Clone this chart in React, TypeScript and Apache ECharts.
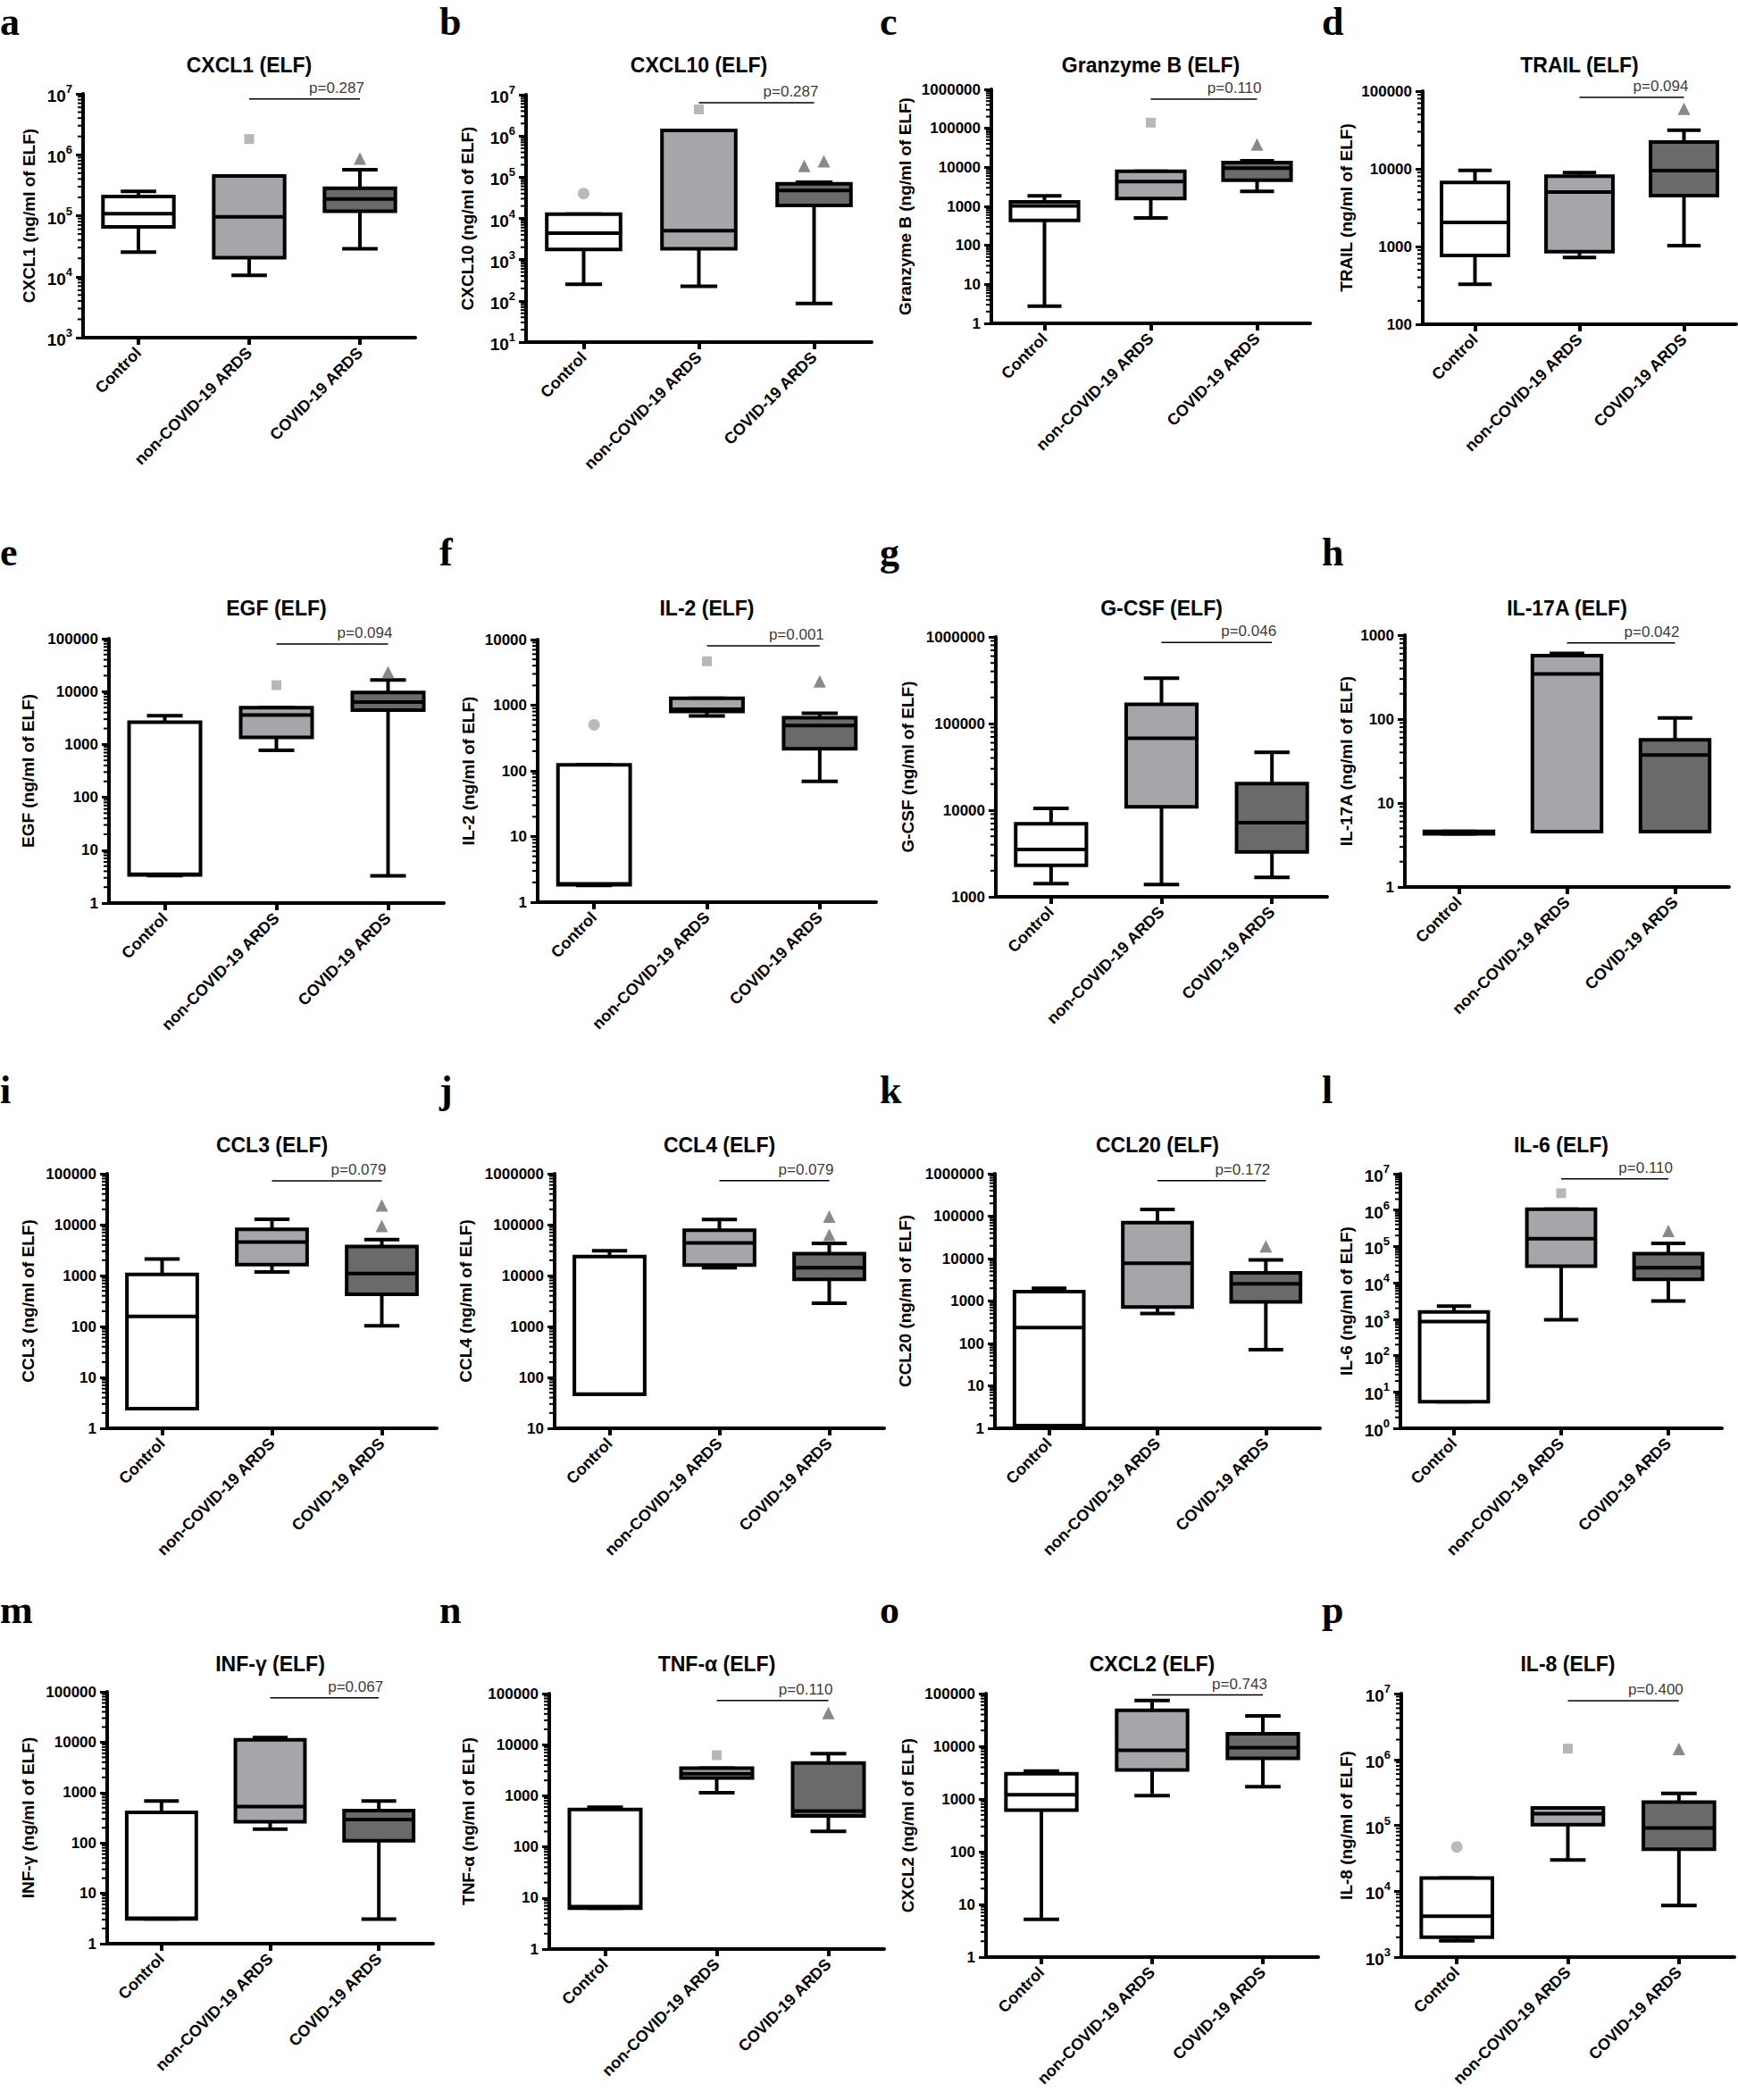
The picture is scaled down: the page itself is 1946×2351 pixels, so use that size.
import React, { useEffect, useRef } from 'react';
import * as echarts from 'echarts';

// ---------- DATA ----------
const CATEGORIES = ['Control', 'non-COVID-19 ARDS', 'COVID-19 ARDS'];

// box statistics per group: [min, Q1, median, Q3, max]
const CXCL1_BOX = [[25200, 65600, 108000, 207000, 250000], [10500, 20400, 96000, 449000, 449000], [28800, 118000, 189000, 283000, 569000]];
const CXCL1_OUT = [[1, 1810000], [2, 870000]];
const CXCL10_BOX = [[254, 1770, 4400, 12600, 12600], [227, 1830, 5050, 1360000, 1360000], [86, 20700, 47500, 69500, 75700]];
const CXCL10_OUT = [[0, 40000], [1, 4400000], [2, 188000], [2, 242000]];
const GZMB_BOX = [[2.77, 437, 1020, 1300, 1850], [504, 1580, 4300, 7960, 7960], [2410, 4700, 9500, 13300, 14700]];
const GZMB_OUT = [[1, 140000], [2, 38700]];
const TRAIL_BOX = [[326, 767, 2040, 6670, 9570], [722, 861, 5030, 8030, 8930], [1030, 4520, 9490, 22100, 31500]];
const TRAIL_OUT = [[2, 59400]];
const EGF_BOX = [[3.3, 3.4, 3.5, 2630, 3500], [771, 1360, 3600, 4950, 4950], [3.26, 4440, 6320, 9580, 16600]];
const EGF_OUT = [[1, 13200], [2, 23300]];
const IL2_BOX = [[1.8, 1.84, 1.9, 124, 124], [687, 806, 870, 1270, 1270], [69, 217, 491, 645, 757]];
const IL2_OUT = [[0, 503], [1, 4670], [2, 2310]];
const GCSF_BOX = [[1420, 2310, 3510, 6980, 10500], [1390, 10900, 67700, 167000, 334000], [1680, 3290, 7170, 20300, 46500]];
const GCSF_OUT: number[][] = [];
const IL17A_BOX = [[4.3, 4.3, 4.4, 4.6, 4.6], [4.57, 4.57, 345, 571, 604], [4.57, 4.57, 37.3, 56.5, 103]];
const IL17A_OUT: number[][] = [];
const CCL3_BOX = [[2.43, 2.43, 158, 1050, 2110], [1170, 1640, 4560, 8100, 12800], [103, 430, 1090, 3730, 5090]];
const CCL3_OUT = [[2, 23800], [2, 9440]];
const CCL4_BOX = [[46.6, 46.6, 47, 23600, 30700], [14200, 16100, 43900, 77800, 126000], [2850, 8410, 14200, 26800, 42600]];
const CCL4_OUT = [[2, 144000], [2, 62900]];
const CCL20_BOX = [[1.15, 1.15, 236, 1660, 2000], [505, 719, 7730, 70200, 143000], [71, 948, 2540, 4600, 9300]];
const CCL20_OUT = [[2, 19500]];
const IL6_BOX = [[5.36, 5.36, 865, 1580, 2290], [964, 28800, 163000, 1050000, 1050000], [3180, 12400, 25900, 63000, 121000]];
const IL6_OUT = [[1, 2900000], [2, 268000]];
const INFG_BOX = [[3.1, 3.1, 3.2, 405, 681], [187, 263, 528, 11100, 12300], [3.07, 111, 292, 437, 681]];
const INFG_OUT: number[][] = [];
const TNFA_BOX = [[6.3, 6.3, 6.8, 538, 595], [1150, 2230, 2690, 3460, 3460], [201, 401, 500, 4380, 6680]];
const TNFA_OUT = [[1, 6220], [2, 41800]];
const CXCL2_BOX = [[5.2, 613, 1200, 3010, 3380], [1160, 3570, 8390, 48200, 73800], [1710, 5880, 9390, 17300, 37800]];
const CXCL2_OUT: number[][] = [];
const IL8_BOX = [[1770, 2010, 4160, 15900, 15900], [29800, 102000, 150000, 184000, 184000], [6080, 43500, 90800, 226000, 306000]];
const IL8_OUT = [[0, 47000], [1, 1460000], [2, 1440000]];

// p-values (non-COVID vs COVID) and the level of their bracket
const P_TEXTS = ['p=0.287', 'p=0.287', 'p=0.110', 'p=0.094', 'p=0.094', 'p=0.001', 'p=0.046', 'p=0.042', 'p=0.079', 'p=0.079', 'p=0.172', 'p=0.110', 'p=0.067', 'p=0.110', 'p=0.743', 'p=0.400'];
const P_LEVELS = [8.26e6, 6.4e6, 5.6e5, 8.3e4, 7.95e4, 8.05e3, 8.6e5, 809, 7.24e4, 7.3e5, 6.9e5, 7.2e6, 7.6e4, 7.3e4, 9.4e4, 7.8e6];

// y-axis decade ranges [min exponent, max exponent]
const Y_RANGES = [[3, 7], [1, 7], [0, 6], [2, 5], [0, 5], [0, 4], [3, 6], [0, 3], [0, 5], [1, 6], [0, 6], [0, 7], [0, 5], [0, 5], [0, 5], [3, 7]];
const SUPERSCRIPT_TICKS = [true, true, false, false, false, false, false, false, false, false, false, true, false, false, false, true];

const LETTERS = ['a', 'b', 'c', 'd', 'e', 'f', 'g', 'h', 'i', 'j', 'k', 'l', 'm', 'n', 'o', 'p'];
const TITLES = ['CXCL1 (ELF)', 'CXCL10 (ELF)', 'Granzyme B (ELF)', 'TRAIL (ELF)', 'EGF (ELF)', 'IL-2 (ELF)', 'G-CSF (ELF)', 'IL-17A (ELF)', 'CCL3 (ELF)', 'CCL4 (ELF)', 'CCL20 (ELF)', 'IL-6 (ELF)', 'INF-γ (ELF)', 'TNF-α (ELF)', 'CXCL2 (ELF)', 'IL-8 (ELF)'];
const Y_NAMES = ['CXCL1 (ng/ml of ELF)', 'CXCL10 (ng/ml of ELF)', 'Granzyme B (ng/ml of ELF)', 'TRAIL (ng/ml of ELF)', 'EGF (ng/ml of ELF)', 'IL-2 (ng/ml of ELF)', 'G-CSF (ng/ml of ELF)', 'IL-17A (ng/ml of ELF)', 'CCL3 (ng/ml of ELF)', 'CCL4 (ng/ml of ELF)', 'CCL20 (ng/ml of ELF)', 'IL-6 (ng/ml of ELF)', 'INF-γ (ng/ml of ELF)', 'TNF-α (ng/ml of ELF)', 'CXCL2 (ng/ml of ELF)', 'IL-8 (ng/ml of ELF)'];
const BOXES = [CXCL1_BOX, CXCL10_BOX, GZMB_BOX, TRAIL_BOX, EGF_BOX, IL2_BOX, GCSF_BOX, IL17A_BOX, CCL3_BOX, CCL4_BOX, CCL20_BOX, IL6_BOX, INFG_BOX, TNFA_BOX, CXCL2_BOX, IL8_BOX];
const OUTLIERS = [CXCL1_OUT, CXCL10_OUT, GZMB_OUT, TRAIL_OUT, EGF_OUT, IL2_OUT, GCSF_OUT, IL17A_OUT, CCL3_OUT, CCL4_OUT, CCL20_OUT, IL6_OUT, INFG_OUT, TNFA_OUT, CXCL2_OUT, IL8_OUT];

// ---------- LAYOUT / STYLE ----------
// plot area per panel: [left, top, right, bottom]
const PLOT_RECTS = [
  [93, 105, 465, 378], [589, 106, 976, 383], [1110, 100, 1467, 362], [1593, 102, 1944, 363],
  [122, 715, 497, 1011], [602, 716, 981, 1010], [1115, 713, 1486, 1004], [1573, 711, 1936, 993],
  [120, 1314, 489, 1599], [621, 1314, 990, 1599], [1114, 1314, 1478, 1599], [1568, 1314, 1928, 1599],
  [120, 1894, 485, 2176], [615, 1896, 990, 2182], [1104, 1896, 1476, 2191], [1569, 1896, 1942, 2191],
];
const NAME_GAPS = [51, 56, 87, 76, 81, 68, 89, 56, 79, 90, 91, 51, 79, 81, 78, 52];
const TITLE_Y = [73, 681, 1282, 1863];
const LETTER_TOP = [2, 596, 1198, 1780];
const LETTER_X = [0, 492, 985, 1480];
// horizontal pixel offsets for outlier symbols (panel index -> per outlier)
const OUTLIER_JITTER: Record<number, number[]> = { 1: [0, 0, -11, 11] };

const GROUP_FILLS = ['#ffffff', '#a6a6aa', '#6a6a6a'];
const OUTLIER_SYMBOLS = ['circle', 'rect', 'triangle'];
const OUTLIER_SIZES = [13, 11, 14];
const OUTLIER_COLORS = ['#a9a9a9', '#a5a5a7', '#6c6c6c'];
const SANS = 'Liberation Sans, Arial, sans-serif';
const SERIF = 'Liberation Serif, Times New Roman, serif';

function minorTickValues(lo: number, hi: number): number[] {
  const out: number[] = [];
  for (let e = lo; e < hi; e++) {
    for (let m = 2; m <= 9; m++) out.push(m * Math.pow(10, e));
  }
  return out;
}

function renderBox(params: any, api: any) {
  const g = api.value(0);
  const cs = params.coordSys;
  const bw = (cs.width / 3) * 0.64;
  const cw = bw / 2;
  const p = (k: number) => api.coord([g, api.value(k)]);
  const cx = p(3)[0];
  const yMin = p(1)[1];
  const yQ1 = p(2)[1];
  const yMed = p(3)[1];
  const yQ3 = p(4)[1];
  const yMax = p(5)[1];
  const st = { stroke: '#000', lineWidth: 4 };
  return {
    type: 'group',
    children: [
      { type: 'line', shape: { x1: cx, y1: yQ3, x2: cx, y2: yMax }, style: st },
      { type: 'line', shape: { x1: cx - cw / 2, y1: yMax, x2: cx + cw / 2, y2: yMax }, style: st },
      { type: 'line', shape: { x1: cx, y1: yQ1, x2: cx, y2: yMin }, style: st },
      { type: 'line', shape: { x1: cx - cw / 2, y1: yMin, x2: cx + cw / 2, y2: yMin }, style: st },
      { type: 'rect', shape: { x: cx - bw / 2, y: yQ3, width: bw, height: Math.max(yQ1 - yQ3, 0.5) }, style: { fill: GROUP_FILLS[g], stroke: '#000', lineWidth: 4 } },
      { type: 'line', shape: { x1: cx - bw / 2, y1: yMed, x2: cx + bw / 2, y2: yMed }, style: st },
    ],
  };
}

function renderMinorTick(params: any, api: any) {
  const y = api.coord([0, api.value(1)])[1];
  const x0 = params.coordSys.x;
  return { type: 'line', shape: { x1: x0 - 6, y1: y, x2: x0 - 1, y2: y }, style: { stroke: '#000', lineWidth: 2 } };
}

function buildOption() {
  const grid: any[] = [];
  const xAxis: any[] = [];
  const yAxis: any[] = [];
  const series: any[] = [];
  const graphic: any[] = [];

  BOXES.forEach((box, i) => {
    const [l, t, r, b] = PLOT_RECTS[i];
    const [lo, hi] = Y_RANGES[i];
    grid.push({ left: l, top: t, width: r - l, height: b - t, containLabel: false, outerBoundsMode: 'none' });
    xAxis.push({
      type: 'category', gridIndex: i, data: CATEGORIES, boundaryGap: true,
      axisLine: { show: true, onZero: false, lineStyle: { color: '#000', width: 4 } },
      axisTick: { show: true, alignWithLabel: true, length: 8, lineStyle: { color: '#000', width: 4 } },
      axisLabel: { rotate: 45, interval: 0, margin: 14, color: '#000', fontSize: 18, fontWeight: 'bold', fontFamily: SANS },
      splitLine: { show: false },
    });
    const sup = SUPERSCRIPT_TICKS[i];
    yAxis.push({
      type: 'log', logBase: 10, gridIndex: i, min: Math.pow(10, lo), max: Math.pow(10, hi), splitNumber: hi - lo,
      name: Y_NAMES[i], nameLocation: 'middle', nameRotate: 90, nameGap: NAME_GAPS[i],
      nameTextStyle: { color: '#000', fontSize: 19, fontWeight: 'bold', fontFamily: SANS },
      axisLine: { show: true, onZero: false, lineStyle: { color: '#000', width: 4 } },
      axisTick: { show: true, length: 8, lineStyle: { color: '#000', width: 3 } },
      axisLabel: {
        margin: 12, color: '#000', fontSize: 17, fontWeight: 'bold', fontFamily: SANS,
        formatter: sup ? (v: number) => `{b|10}{s|${Math.round(Math.log10(v))}}` : (v: number) => String(Math.round(v)),
        rich: sup ? {
          b: { fontSize: 19, fontWeight: 'bold', color: '#000', fontFamily: SANS, lineHeight: 24, verticalAlign: 'bottom' },
          s: { fontSize: 13, fontWeight: 'bold', color: '#000', fontFamily: SANS, lineHeight: 13, verticalAlign: 'top' },
        } : undefined,
      },
      splitLine: { show: false },
      minorTick: { show: false },
    });

    series.push({
      type: 'custom', xAxisIndex: i, yAxisIndex: i, silent: true,
      data: minorTickValues(lo, hi).map((v) => [0, v]),
      encode: { x: 0, y: 1 }, renderItem: renderMinorTick, z: 1,
    });
    series.push({
      type: 'custom', xAxisIndex: i, yAxisIndex: i, silent: true,
      data: box.map((bx, g) => [g, ...bx]),
      encode: { x: 0, y: [1, 2, 3, 4, 5] }, renderItem: renderBox, z: 3,
    });
    const jit = OUTLIER_JITTER[i] || [];
    if (OUTLIERS[i].length) {
      series.push({
        type: 'scatter', xAxisIndex: i, yAxisIndex: i, silent: true, z: 4,
        data: OUTLIERS[i].map((o, k) => ({
          value: [o[0], o[1]], symbol: OUTLIER_SYMBOLS[o[0]], symbolSize: OUTLIER_SIZES[o[0]],
          symbolOffset: [jit[k] || 0, 0], itemStyle: { color: OUTLIER_COLORS[o[0]] },
        })),
      });
    }
    series.push({
      type: 'line', xAxisIndex: i, yAxisIndex: i, silent: true, symbol: 'none', z: 4,
      data: [[1, P_LEVELS[i]], [2, P_LEVELS[i]]], lineStyle: { color: '#000', width: 1.5 },
    });
    series.push({
      type: 'scatter', xAxisIndex: i, yAxisIndex: i, silent: true, symbolSize: 0, z: 5,
      data: [[2, P_LEVELS[i]]],
      label: { show: true, position: 'top', distance: 4, align: 'right', offset: [5, 0], formatter: P_TEXTS[i], color: '#000', fontSize: 17, fontFamily: SANS },
    });

    const row = Math.floor(i / 4);
    const col = i % 4;
    graphic.push({
      type: 'text', x: (l + r) / 2, y: TITLE_Y[row], silent: true,
      style: { text: TITLES[i], fill: '#000', fontSize: 23, fontWeight: 'bold', fontFamily: SANS, align: 'center', verticalAlign: 'middle' },
    });
    graphic.push({
      type: 'text', x: LETTER_X[col], y: LETTER_TOP[row], silent: true,
      style: { text: LETTERS[i], fill: '#000', fontSize: 44, fontWeight: 'bold', fontFamily: SERIF, align: 'left', verticalAlign: 'top' },
    });
  });

  return {
    animation: false,
    backgroundColor: '#ffffff',
    textStyle: { fontFamily: SANS },
    grid, xAxis, yAxis, series, graphic,
  };
}

export default function App() {
  const ref = useRef<HTMLDivElement>(null);
  useEffect(() => {
    if (!ref.current) return;
    const chart = echarts.init(ref.current, undefined, { renderer: 'svg' });
    chart.setOption(buildOption() as any);
    return () => chart.dispose();
  }, []);
  return <div ref={ref} style={{ position: 'absolute', left: 0, top: 0, width: 1946, height: 2351, background: '#fff' }} />;
}
